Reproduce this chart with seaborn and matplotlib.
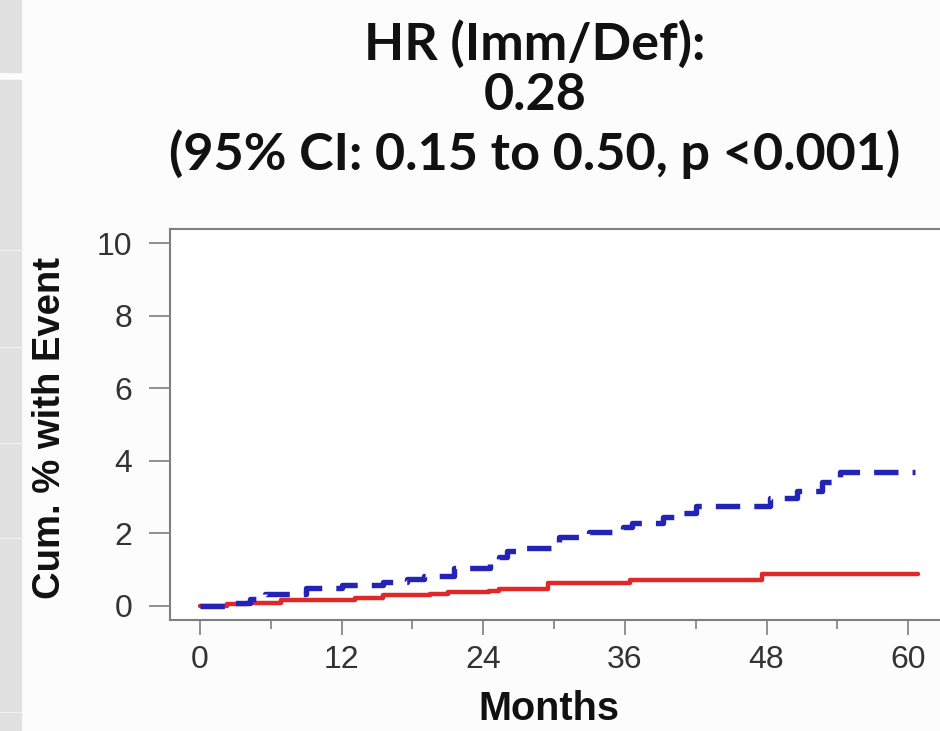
import pandas as pd
import numpy as np
import matplotlib
matplotlib.use("Agg")
import matplotlib.pyplot as plt
import seaborn as sns
from matplotlib.patches import Rectangle
from matplotlib.ticker import MultipleLocator

# --- data (cumulative % with event, step curves) ---
def_months = [0, 2.5, 4.2, 5.5, 9.0, 12.0, 15.5, 17.5, 19.0, 21.5, 24.6, 25.3, 26.0, 27.3,
              29.8, 30.4, 33.0, 35.8, 36.6, 39.2, 40.5, 42.0, 48.3, 50.6, 52.7, 54.2, 60.6]
def_pct = [0, 0.08, 0.17, 0.31, 0.48, 0.58, 0.66, 0.72, 0.82, 1.03, 1.20, 1.35, 1.50, 1.60,
           1.75, 1.90, 2.04, 2.18, 2.27, 2.45, 2.55, 2.74, 2.98, 3.15, 3.42, 3.68, 3.68]

imm_months = [0, 2.3, 4.0, 6.9, 13.1, 15.5, 19.5, 21.0, 24.5, 25.3, 29.5, 36.4, 47.6, 60.8]
imm_pct = [0, 0.05, 0.08, 0.15, 0.22, 0.28, 0.33, 0.38, 0.40, 0.47, 0.62, 0.70, 0.87, 0.87]

x_ticks = [0, 12, 24, 36, 48, 60]
y_ticks = [0, 2, 4, 6, 8, 10]
title_lines = ["HR (Imm/Def):", "0.28", "(95% CI: 0.15 to 0.50, p <0.001)"]

df_def = pd.DataFrame({"Months": def_months, "Pct": def_pct})
df_imm = pd.DataFrame({"Months": imm_months, "Pct": imm_pct})

sns.set_theme(style="white")
plt.rcParams["font.family"] = ["Liberation Sans", "DejaVu Sans"]

fig = plt.figure(figsize=(9.4, 7.31), dpi=100)
fig.patch.set_facecolor("#fdfcfc")

# gray strip on the left edge (slide background)
strip = [(0, 72), (80, 249), (251, 346), (348, 442), (444, 537), (539, 711), (713, 731)]
for y0, y1 in strip:
    fig.patches.append(Rectangle((0, 1 - y1 / 731), 21 / 940, (y1 - y0) / 731,
                                 transform=fig.transFigure, color="#e1e1e1", zorder=0))

ax = fig.add_axes([170 / 940, 111 / 731, 809 / 940, 391 / 731])
ax.set_facecolor("white")

sns.lineplot(data=df_imm, x="Months", y="Pct", ax=ax, estimator=None,
             drawstyle="steps-post", color="#e02828", linewidth=3.2)
sns.lineplot(data=df_def, x="Months", y="Pct", ax=ax, estimator=None,
             drawstyle="steps-post", color="#2323b8", linewidth=3.9,
             linestyle=(0, (4.5, 2.6)))

ax.set_xlim(-2.54, 66)
ax.set_ylim(-0.40, 10.4)
ax.set_xticks(x_ticks)
ax.set_yticks(y_ticks)
ax.xaxis.set_minor_locator(MultipleLocator(6))

for s in ax.spines.values():
    s.set_color("#7f7f7f")
    s.set_linewidth(1.5)

ax.tick_params(axis="y", which="major", direction="out", length=15, width=1.2,
               color="#7f7f7f", pad=12, labelsize=23, labelcolor="#333333", left=True)
ax.tick_params(axis="x", which="major", direction="out", length=11, width=1.2,
               color="#7f7f7f", pad=7, labelsize=23, labelcolor="#333333", bottom=True)
ax.tick_params(axis="x", which="minor", direction="out", length=6.5, width=1.2,
               color="#7f7f7f", bottom=True)

ax.set_xlabel("Months", fontsize=28.5, fontweight="bold", color="#111111", va="center")
ax.xaxis.set_label_coords(0.468, -0.228)
ax.set_ylabel("Cum. % with Event", fontsize=27.5, fontweight="bold", color="#111111", va="center")
ax.yaxis.set_label_coords(-0.148, 0.49)

title_y = [44, 95, 154]
for line, yy in zip(title_lines, title_y):
    fig.text(535 / 940, 1 - yy / 731, line, ha="center", va="center", fontsize=37.5,
             fontweight="bold", family=["Lato", "DejaVu Sans"], color="#111111")

plt.savefig("out.png", dpi=100, facecolor=fig.get_facecolor())
plt.close()
